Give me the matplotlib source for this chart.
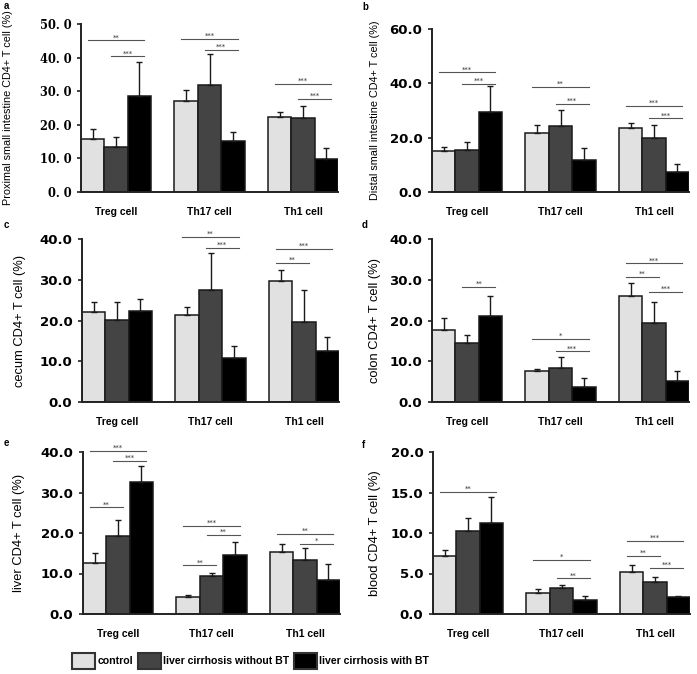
import matplotlib
matplotlib.use("Agg")
import matplotlib.pyplot as plt
from matplotlib.patches import Patch
import numpy as np

# categories / series
groups = ["Treg cell", "Th17 cell", "Th1 cell"]
series = ["control", "liver cirrhosis without BT", "liver cirrhosis with BT"]
colors = ["#e1e1e1", "#444444", "#000000"]

# mean values per group (control, without BT, with BT)
a_mean = [[15.8, 13.4, 28.5], [27.1, 31.9, 15.1], [22.4, 22.0, 9.7]]
a_sd = [[2.9, 3.1, 10.1], [3.3, 9.3, 2.8], [1.3, 3.7, 3.4]]
b_mean = [[15.0, 15.5, 29.6], [21.7, 24.2, 11.8], [23.4, 19.9, 7.5]]
b_sd = [[1.6, 2.9, 9.3], [3.0, 6.1, 4.3], [1.9, 4.8, 2.7]]
c_mean = [[22.1, 20.2, 22.4], [21.4, 27.6, 10.8], [29.8, 19.6, 12.6]]
c_sd = [[2.5, 4.3, 2.8], [2.0, 9.0, 2.9], [2.6, 8.0, 3.4]]
d_mean = [[17.7, 14.5, 21.2], [7.5, 8.3, 3.7], [25.9, 19.3, 5.1]]
d_sd = [[3.0, 1.9, 4.7], [0.7, 2.8, 2.1], [3.4, 5.3, 2.6]]
e_mean = [[12.5, 19.2, 32.6], [4.2, 9.5, 14.5], [15.2, 13.3, 8.5]]
e_sd = [[2.6, 4.1, 4.0], [0.4, 0.7, 3.2], [2.0, 2.9, 3.9]]
f_mean = [[7.1, 10.2, 11.2], [2.6, 3.2, 1.7], [5.2, 4.0, 2.1]]
f_sd = [[0.8, 1.6, 3.2], [0.5, 0.4, 0.5], [0.8, 0.6, 0.1]]

# significance: (group, bar i, bar j, height, stars)
a_sig = [(0, 0, 2, 45.1, "**"), (0, 1, 2, 40.4, "***"), (1, 0, 2, 45.5, "***"),
         (1, 1, 2, 42.2, "***"), (2, 0, 2, 32.2, "***"), (2, 1, 2, 27.7, "***")]
b_sig = [(0, 0, 2, 44.0, "***"), (0, 1, 2, 39.9, "***"), (1, 0, 2, 38.7, "**"),
         (1, 1, 2, 32.5, "***"), (2, 0, 2, 31.8, "***"), (2, 1, 2, 27.1, "***")]
c_sig = [(1, 0, 2, 40.5, "**"), (1, 1, 2, 37.9, "***"), (2, 0, 2, 37.5, "***"),
         (2, 0, 1, 34.2, "**")]
d_sig = [(0, 1, 2, 28.2, "**"), (1, 0, 2, 15.4, "*"), (1, 1, 2, 12.4, "***"),
         (2, 0, 2, 34.0, "***"), (2, 0, 1, 30.7, "**"), (2, 1, 2, 27.0, "***")]
e_sig = [(0, 0, 2, 40.2, "***"), (0, 1, 2, 37.9, "***"), (0, 0, 1, 26.3, "**"),
         (1, 0, 2, 21.8, "***"), (1, 1, 2, 19.6, "**"), (1, 0, 1, 12.0, "**"),
         (2, 0, 2, 19.8, "**"), (2, 1, 2, 17.3, "*")]
f_sig = [(0, 0, 2, 15.1, "**"), (1, 0, 2, 6.7, "*"), (1, 1, 2, 4.4, "**"),
         (2, 0, 2, 9.0, "***"), (2, 0, 1, 7.2, "**"), (2, 1, 2, 5.7, "***")]

a_ticks = [0, 10, 20, 30, 40, 50]
b_ticks = [0, 20, 40, 60]
c_ticks = [0, 10, 20, 30, 40]
d_ticks = [0, 10, 20, 30, 40]
e_ticks = [0, 10, 20, 30, 40]
f_ticks = [0, 5, 10, 15, 20]

a_label = "Proximal small intestine CD4+ T cell (%)"
b_label = "Distal small intestine CD4+ T cell (%)"
c_label = "cecum CD4+ T cell (%)"
d_label = "colon CD4+ T cell (%)"
e_label = "liver CD4+ T cell (%)"
f_label = "blood CD4+ T cell (%)"

W, H = 697, 674
fig = plt.figure(figsize=(W / 100, H / 100), dpi=100)


def px_axes(left, top, right, bottom):
    return fig.add_axes([left / W, 1 - bottom / H, (right - left) / W, (bottom - top) / H])


def draw_panel(ax, mean, sd, sig, ticks, ylabel, letter, lab_x, serif=False,
               label_size=8.0):
    mean = np.array(mean)
    sd = np.array(sd)
    for s in range(3):
        xs = np.arange(3) * 4 + s
        ax.bar(xs, mean[:, s], width=1.0, align="edge", color=colors[s],
               edgecolor="#1a1a1a", linewidth=1.1, zorder=2)
        ax.errorbar(xs + 0.5, mean[:, s], yerr=[np.zeros(3), sd[:, s]], fmt="none",
                    ecolor="#1a1a1a", elinewidth=1.0, capsize=2.2, capthick=1.0, zorder=3)
    for g, i, j, y, stars in sig:
        x0 = g * 4 + i + 0.3
        x1 = g * 4 + j + 0.7
        ax.plot([x0, x1], [y, y], color="#555555", lw=0.8, clip_on=False, zorder=4)
        ax.text((x0 + x1) / 2, y, stars, ha="center", va="bottom", fontsize=5,
                color="#333333", clip_on=False)
    ax.set_xlim(0, 11)
    ax.set_ylim(ticks[0], ticks[-1])
    ax.set_yticks(ticks)
    if serif:
        ax.set_yticklabels([f"{t:.1f}".replace(".", ". ") for t in ticks],
                           fontfamily="DejaVu Serif", fontweight="bold", fontsize=8.3)
    else:
        ax.set_yticklabels([f"{t:.1f}" for t in ticks],
                           fontfamily="DejaVu Sans", fontweight="bold", fontsize=9.5)
    ax.set_xticks([1.5, 5.5, 9.5])
    ax.set_xticklabels(groups, fontfamily="Liberation Sans", fontweight="bold", fontsize=7.5)
    ax.tick_params(axis="x", length=0, pad=11)
    ax.tick_params(axis="y", length=3, width=1.2, pad=4, color="#222222")
    for sp in ["top", "right"]:
        ax.spines[sp].set_visible(False)
    for sp in ["left", "bottom"]:
        ax.spines[sp].set_linewidth(1.4)
        ax.spines[sp].set_color("#222222")
    ax.text(lab_x, 0.5, ylabel, transform=ax.transAxes, rotation=90, ha="center",
            va="center", fontfamily="Liberation Sans", fontsize=label_size)
    fig.text(letter[1] / W, 1 - letter[2] / H, letter[0], ha="left", va="center",
             fontfamily="Liberation Sans", fontweight="bold", fontsize=7)


ax_a = px_axes(81, 24, 338, 192)
ax_b = px_axes(432, 29, 689, 192)
ax_c = px_axes(82, 239, 339, 402)
ax_d = px_axes(432, 239, 689, 402)
ax_e = px_axes(83, 452, 340, 614)
ax_f = px_axes(433, 452, 690, 614)

draw_panel(ax_a, a_mean, a_sd, a_sig, a_ticks, a_label, ("a", 4, 6), -0.284, serif=True, label_size=7.8)
draw_panel(ax_b, b_mean, b_sd, b_sig, b_ticks, b_label, ("b", 362, 7), -0.222, label_size=7.8)
draw_panel(ax_c, c_mean, c_sd, c_sig, c_ticks, c_label, ("c", 4, 225), -0.241, label_size=9.3)
draw_panel(ax_d, d_mean, d_sd, d_sig, d_ticks, d_label, ("d", 362, 225), -0.222, label_size=9.3)
draw_panel(ax_e, e_mean, e_sd, e_sig, e_ticks, e_label, ("e", 4, 443), -0.249, label_size=9.3)
draw_panel(ax_f, f_mean, f_sd, f_sig, f_ticks, f_label, ("f", 362, 445), -0.226, label_size=9.3)

handles = [Patch(facecolor=c, edgecolor="#333333", linewidth=1.5) for c in colors]
fig.legend(handles, series, loc="center left", bbox_to_anchor=(72 / W, 1 - 661 / H),
           ncol=3, frameon=False, handlelength=2.2, handleheight=2.1, handletextpad=0.2,
           columnspacing=0.45, borderpad=0, borderaxespad=0,
           prop={"family": "Liberation Sans", "weight": "bold", "size": 7.6})

fig.savefig("out.png", dpi=100)
